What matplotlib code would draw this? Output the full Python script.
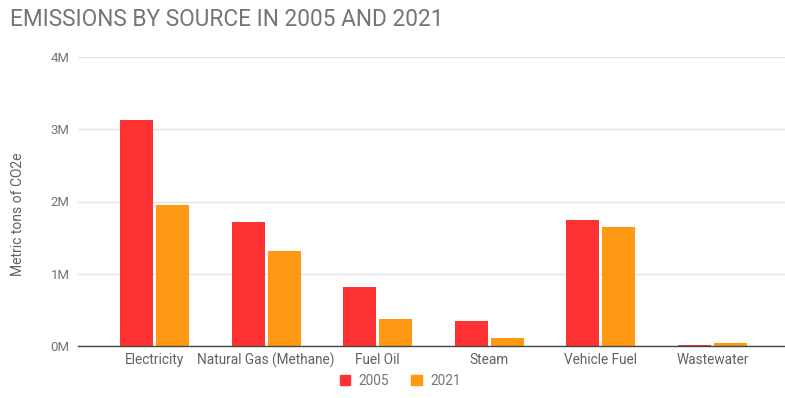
import numpy as np
import matplotlib
matplotlib.use("Agg")
import matplotlib.pyplot as plt
from matplotlib.patches import Patch

categories = ["Electricity", "Natural Gas (Methane)", "Fuel Oil", "Steam", "Vehicle Fuel", "Wastewater"]
emissions_2005 = [3.13e6, 1.71e6, 0.82e6, 0.34e6, 1.74e6, 0.02e6]
emissions_2021 = [1.95e6, 1.31e6, 0.37e6, 0.11e6, 1.65e6, 0.04e6]
yticks = [0, 1e6, 2e6, 3e6, 4e6]
ytick_labels = ["0M", "1M", "2M", "3M", "4M"]

red = "#ff3333"
orange = "#ff9812"
gray = "#757575"

plt.rcParams['font.family'] = ['Roboto', 'DejaVu Sans']

fig = plt.figure(figsize=(7.85, 3.98), dpi=100)
ax = fig.add_axes([78/785, 1-346/398, 1-78/785, (346-57)/398])

x = np.arange(len(categories))
w = 0.296
off = 0.161
ax.bar(x - off, emissions_2005, width=w, color=red, label="2005", zorder=2)
ax.bar(x + off, emissions_2021, width=w, color=orange, label="2021", zorder=2)

ax.set_xlim(-0.685, 5.65)
ax.set_ylim(0, 4e6)
ax.set_yticks(yticks)
ax.set_yticklabels(ytick_labels, color=gray, fontsize=9.5)
ax.set_xticks(x)
ax.set_xticklabels(categories, color="#616161", fontsize=9.8)
ax.tick_params(axis="both", length=0)
ax.tick_params(axis="y", pad=6)
ax.tick_params(axis="x", pad=5)
ax.grid(axis="y", color="#e3e3e3", linewidth=1, zorder=0)
for s in ["top", "right", "left"]:
    ax.spines[s].set_visible(False)
ax.spines["bottom"].set_color("#444444")
ax.spines["bottom"].set_linewidth(1)
ax.spines["bottom"].set_zorder(3)

fig.text(18/785, 1-214/398, "Metric tons of CO2e", rotation=90, color="#616161",
         fontsize=10, ha="center", va="center")
fig.text(10/785, 1-20/398, "EMISSIONS BY SOURCE IN 2005 AND 2021", color=gray,
         fontsize=16.3, ha="left", va="center")

handles = [Patch(color=red, label="2005"), Patch(color=orange, label="2021")]
fig.legend(handles=handles, loc="center", bbox_to_anchor=(400/785, 1-381/398), ncol=2,
           frameon=False, fontsize=9.8, labelcolor=gray, handlelength=0.8, handleheight=0.8,
           handletextpad=0.6, columnspacing=1.6)

fig.savefig("out.png", dpi=100)
